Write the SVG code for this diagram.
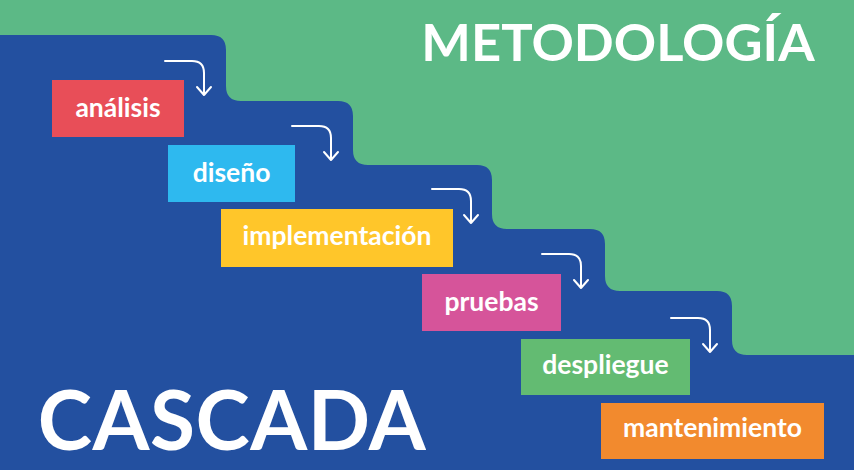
<svg xmlns="http://www.w3.org/2000/svg" width="854" height="470" viewBox="0 0 854 470">
<defs>
<style>
.lbl{font-family:Lato,"Open Sans","Liberation Sans",sans-serif;font-weight:700;fill:#fff;text-anchor:middle}
.box text{font-size:26.5px}
.arr{fill:none;stroke:#fff;stroke-width:2;stroke-linecap:round;stroke-linejoin:round}
</style>
<path id="arrow" d="M0,0 H27 Q39,0 39,12 V34 M32,26 L39,34 L46,26"/>
</defs>
<rect width="854" height="470" fill="#5CB986"/>
<path fill="#2350A0" d="M0,35 H211 Q226,35 226,50 V86 Q226,101 241,101 H338 Q353,101 353,116 V150 Q353,165 368,165 H477 Q492,165 492,180 V214 Q492,229 507,229 H590 Q605,229 605,244 V276 Q605,291 620,291 H717 Q732,291 732,306 V340 Q732,355 747,355 H854 V470 H0 Z"/>
<text id="title" class="lbl" x="618" y="61" font-size="52.5">METODOLOGÍA</text>
<text id="subtitle" class="lbl" x="232" y="450" font-size="82" letter-spacing="0.5">CASCADA</text>
<g id="connectors" class="arr">
<use href="#arrow" x="165" y="61"/>
<use href="#arrow" x="292" y="126"/>
<use href="#arrow" x="432" y="189"/>
<use href="#arrow" x="542" y="254"/>
<use href="#arrow" x="671" y="318"/>
</g>
<g id="analisis" class="box lbl"><rect x="52" y="80" width="132" height="57" fill="#E84E58"/><text x="118" y="117">análisis</text></g>
<g id="diseno" class="box lbl"><rect x="168" y="145" width="127" height="57" fill="#2EB9EF"/><text x="231.5" y="182">diseño</text></g>
<g id="implementacion" class="box lbl"><rect x="221" y="209" width="232" height="58" fill="#FFC62A"/><text x="337" y="245">implementación</text></g>
<g id="pruebas" class="box lbl"><rect x="422" y="274" width="139" height="57" fill="#D6549A"/><text x="491.5" y="311">pruebas</text></g>
<g id="despliegue" class="box lbl"><rect x="521" y="339" width="169" height="56" fill="#63BB72"/><text x="605.5" y="374">despliegue</text></g>
<g id="mantenimiento" class="box lbl"><rect x="601" y="403" width="223" height="56" fill="#F28A2E"/><text x="712.5" y="437">mantenimiento</text></g>
</svg>
